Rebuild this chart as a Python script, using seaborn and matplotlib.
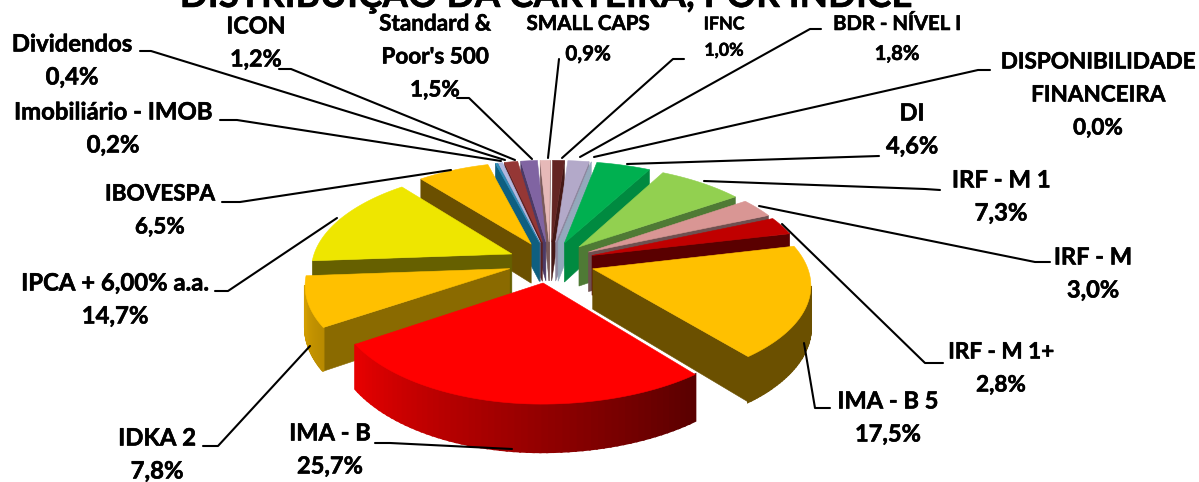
import numpy as np
import pandas as pd
import matplotlib
matplotlib.use('Agg')
import matplotlib.pyplot as plt
import matplotlib.patheffects as pe
import seaborn as sns

names = ['SMALL CAPS', 'IFNC', 'BDR - NÍVEL I', 'DISPONIBILIDADE\nFINANCEIRA', 'DI', 'IRF - M 1', 'IRF - M',
         'IRF - M 1+', 'IMA - B 5', 'IMA - B', 'IDKA 2', 'IPCA + 6,00% a.a.', 'IBOVESPA',
         'Imobiliário - IMOB', 'Dividendos', 'ICON', "Standard &\nPoor's 500"]
values = [0.9, 1.0, 1.8, 0.0, 4.6, 7.3, 3.0, 2.8, 17.5, 25.7, 7.8, 14.7, 6.5, 0.2, 0.4, 1.2, 1.5]

top_colors = ['#E6B9B8', '#632523', '#B3A9C9', '#93A9BC', '#00B050', '#92D050', '#D99694', '#C00000',
              '#FFC000', '#FF0000', '#FFC000', '#EEE600', '#FFC000', '#2E8CB8', '#B0B8E0', '#953735', '#8064A2']
wall_colors = ['#7A5A5A', '#451816', '#8E88A0', '#93A9BC', '#008A40', '#4F7A35', '#6F5050', '#5A0000',
               '#6B5000', '#8A0000', '#8A6A00', '#666000', '#6B5000', '#0F5F80', '#5A6A90', '#5A2020', '#4B3A66']
arc_left = ['#7A5A5A', '#451816', '#8E88A0', '#93A9BC', '#008A40', '#4F7A35', '#6F5050', '#5A0000',
            '#6B5000', '#E60000', '#D9A300', '#666000', '#6B5000', '#0F5F80', '#5A6A90', '#5A2020', '#4B3A66']
arc_right = ['#7A5A5A', '#451816', '#8E88A0', '#93A9BC', '#008A40', '#4F7A35', '#6F5050', '#5A0000',
             '#6B5000', '#5A0000', '#B88A00', '#666000', '#6B5000', '#0F5F80', '#5A6A90', '#5A2020', '#4B3A66']

df = pd.DataFrame({'name': names, 'value': values, 'top': top_colors, 'wall': wall_colors,
                   'arc_left': arc_left, 'arc_right': arc_right})

# label centre x, first line y, leader line
percent_txt = ['0,9%', '1,0%', '1,8%', '0,0%', '4,6%', '7,3%', '3,0%', '2,8%', '17,5%', '25,7%', '7,8%', '14,7%',
               '6,5%', '0,2%', '0,4%', '1,2%', '1,5%']
label_x = [588, 724, 897, 1098, 912, 1001, 1093, 1001, 888, 330, 157, 115, 160, 113, 72, 256, 435]
label_y = [24, 24, 24, 62, 113, 180, 257, 352, 401, 433, 438, 283, 194, 112, 44, 27, 24]
label_size = [14.8, 12.8, 14.6, 16.2, 17, 17.2, 17, 16.2, 17, 17, 17.2, 17.2, 16.2, 17.2, 17.2, 16.8, 16.2]
leaders = [[(559, 59), (548, 158)], [(684, 59), (673, 59), (562, 158)], [(821, 29), (810, 29), (580, 157)],
           [(990, 70), (978, 70), (594, 157)], [(879, 156), (627, 164)], [(940, 190), (925, 189), (704, 181)],
           [(1050, 262), (1035, 262), (759, 206)], [(943, 363), (925, 363), (782, 224)],
           [(830, 408), (815, 408), (804, 343)], [(375, 443), (390, 443), (512, 449)],
           [(203, 446), (218, 446), (310, 346)], [(215, 291), (228, 291), (337, 218)],
           [(222, 202), (240, 202), (451, 170)], [(220, 120), (237, 120), (501, 161)],
           [(140, 51), (151, 51), (505, 160)], [(279, 69), (291, 69), (515, 160)],
           [(457, 98), (469, 98), (532, 159)]]

sns.set_theme(style='white')
plt.rcParams['font.family'] = ['Lato', 'DejaVu Sans']

# perspective set up, ground plane to pixels
cx, horizon, dist = 550, -449, 7.25
k_left, k_right, k_y, k_z = 1450, 1545, 5155, 290
explode = 0.21
start = -3.0


def project(x, y, z=0.0):
    d = dist + y
    k_x = k_left if x < 0 else k_right
    return cx + k_x * x / d, horizon + (k_y + k_z * z) / d


def facing(quad):
    xs = np.array([p[0] for p in quad])
    ys = np.array([p[1] for p in quad])
    return np.sum(xs * np.roll(ys, -1) - np.roll(xs, -1) * ys) < 0


def draw_wall(ax, p0, p1, color, lw=0.4):
    quad = [project(*p0), project(*p1), project(*p1, 1), project(*p0, 1)]
    if facing(quad):
        ax.fill(*zip(*quad), color=color, lw=lw, zorder=2)


fig, ax = plt.subplots(figsize=(11.99, 4.82), dpi=100)
fig.subplots_adjust(0, 0, 1, 1)
ax.set_xlim(0, 1199)
ax.set_ylim(482, 0)
ax.axis('off')

df['a0'] = start + np.cumsum([0] + values[:-1]) / sum(values) * 360
df['a1'] = df['a0'] + df['value'] / sum(values) * 360
df['mid'] = (df['a0'] + df['a1']) / 2

# far slices first
for _, row in df.sort_values('mid', key=lambda s: -np.cos(np.radians(s))).iterrows():
    mid = np.radians(row['mid'])
    ox, oy = explode * np.sin(mid), explode * np.cos(mid)
    ang = np.radians(np.linspace(row['a0'], row['a1'], 60))
    arc = [(ox + np.sin(a), oy + np.cos(a)) for a in ang]
    tip = (ox, oy)

    draw_wall(ax, tip, arc[0], row['wall'])
    draw_wall(ax, arc[-1], tip, row['wall'])
    shades = sns.blend_palette([row['arc_left'], row['arc_right']], len(arc) - 1)
    # left of the slice is the end of the arc on the near side
    for i in range(len(arc) - 1):
        draw_wall(ax, arc[i], arc[i + 1], shades[len(arc) - 2 - i], lw=1.6)

    top = [project(*tip)] + [project(*p) for p in arc]
    ax.fill(*zip(*top), color=row['top'], lw=0.4, zorder=2)

for line in leaders:
    ax.plot(*zip(*line), color='black', lw=1.5, zorder=3, solid_capstyle='round')

heavy = [pe.withStroke(linewidth=0.4, foreground='black')]
for name, pct, x, y, size in zip(names, percent_txt, label_x, label_y, label_size):
    step = 33 if size > 16 else size * 2.05
    lines = name.split('\n') + [pct]
    for i, txt in enumerate(lines):
        ax.text(x, y + i * step, txt, ha='center', va='center', fontsize=size, fontweight='bold', color='black',
                zorder=4, path_effects=heavy)

ax.text(546, 7, 'DISTRIBUIÇÃO DA CARTEIRA, POR ÍNDICE', ha='center', va='baseline', fontsize=26.5, fontweight='bold',
        color='black', path_effects=heavy)

plt.savefig('out.png', dpi=100)
